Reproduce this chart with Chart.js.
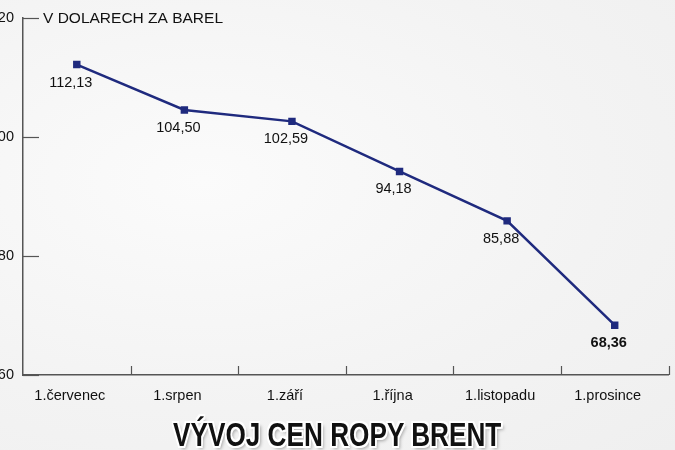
<!DOCTYPE html>
<html><head><meta charset="utf-8">
<script src="https://cdn.jsdelivr.net/npm/chart.js@4/dist/chart.umd.min.js"></script>
<style>
html,body{margin:0;padding:0;width:675px;height:450px;overflow:hidden;background:#f3f3f3;}
body{background:radial-gradient(ellipse at 30% 40%,#fbfbfb 0%,#f3f3f3 60%,#efefef 100%);position:relative;}
#wrap{position:absolute;left:-20px;top:0;width:695px;height:415px;}
#t{position:absolute;left:0;width:675px;top:415px;text-align:center;}
#t span{display:inline-block;transform:scaleX(0.77);transform-origin:center;font-family:"Liberation Sans",sans-serif;font-weight:bold;font-size:34px;color:#111;
text-shadow:-2px -2px 0 #fff,2px -2px 0 #fff,-2px 2px 0 #fff,2px 2px 0 #fff,0 2px 0 #fff,0 -2px 0 #fff,2px 0 0 #fff,-2px 0 0 #fff,3px 3px 4px rgba(0,0,0,0.35);}
</style></head><body>
<div id="wrap"><canvas id="c" width="695" height="415"></canvas></div>
<div id="t"><span>VÝVOJ CEN ROPY BRENT</span></div>
<script>
const categories = ["1.červenec","1.srpen","1.září","1.října","1.listopadu","1.prosince"];
const prices = [112.13,104.50,102.59,94.18,85.88,68.36];
const priceLabels = ["112,13","104,50","102,59","94,18","85,88","68,36"];
const yTicks = [60,80,100,120];
const unitTitle = "V DOLARECH ZA BAREL";

const FONT = "'Liberation Sans', Arial, sans-serif";
const AXIS = "#555";

const extras = {
  id:'extras',
  afterDraw(chart){
    const ctx = chart.ctx, x = chart.scales.x, y = chart.scales.y;
    ctx.save();
    ctx.strokeStyle = AXIS; ctx.lineWidth = 1.2;
    yTicks.forEach(v=>{
      const py = Math.round(y.getPixelForValue(v))+0.5;
      ctx.beginPath(); ctx.moveTo(x.left, py); ctx.lineTo(x.left+16, py); ctx.stroke();
    });
    const n = categories.length, w = (x.right-x.left)/n;
    for(let i=1;i<=n;i++){
      const px = Math.round(x.left+i*w)+0.5;
      ctx.beginPath(); ctx.moveTo(px, y.bottom); ctx.lineTo(px, y.bottom-9); ctx.stroke();
    }
    const meta = chart.getDatasetMeta(0);
    ctx.fillStyle = "#111"; ctx.textAlign = "center"; ctx.textBaseline = "middle";
    meta.data.forEach((p,i)=>{
      ctx.font = (i===n-1? "bold ":"") + "14.5px " + FONT;
      ctx.fillText(priceLabels[i], p.x-6, p.y+18);
    });
    ctx.font = "15.5px " + FONT; ctx.textAlign = "left";
    ctx.fillText(unitTitle, x.left+20, y.getPixelForValue(120)+1);
    ctx.restore();
  }
};

new Chart(document.getElementById('c'), {
  type:'line',
  data:{labels:categories, datasets:[{data:prices, borderColor:'#1f2a7e', backgroundColor:'#1f2a7e', borderWidth:2.5, pointStyle:'rect', pointRadius:3.5, tension:0}]},
  options:{
    responsive:false, animation:false,
    layout:{padding:{top:15,right:5,left:0,bottom:0}},
    plugins:{legend:{display:false}, tooltip:{enabled:false}},
    scales:{
      x:{offset:true,
        grid:{display:false, offset:true, drawTicks:false, tickLength:0},
        border:{display:true,color:AXIS,width:1.5},
        ticks:{color:'#111',font:{family:FONT,size:14.5},labelOffset:-7,padding:12,maxRotation:0,autoSkip:false},
        afterFit(s){s.height=40;}
      },
      y:{min:60,max:120,
        grid:{display:false, drawTicks:false, tickLength:0},
        border:{display:true,color:AXIS,width:1.5},
        afterBuildTicks(s){s.ticks = yTicks.map(v=>({value:v}));},
        ticks:{color:'#111',font:{family:FONT,size:14.5},padding:9},
        afterFit(s){s.width=43;}
      }
    }
  },
  plugins:[extras]
});
</script>
</body></html>
